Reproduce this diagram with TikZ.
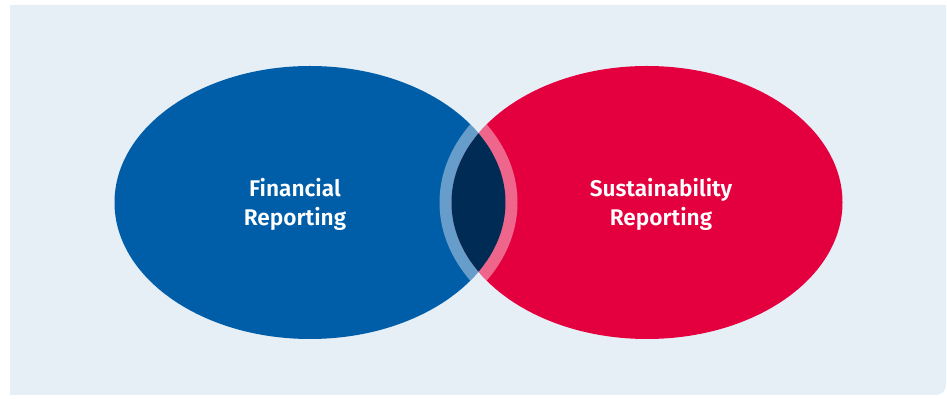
\documentclass[tikz,border=0pt]{standalone}
\usepackage{fontspec}
\setmainfont{Fira Sans}[BoldFont={Fira Sans SemiBold}]
\usetikzlibrary{positioning}
\definecolor{panelbg}{RGB}{230,238,246}
\definecolor{finblue}{RGB}{0,93,168}
\definecolor{susred}{RGB}{228,0,63}
\definecolor{overlapnavy}{RGB}{0,43,85}

\begin{document}
\begin{tikzpicture}[x=0.75pt,y=0.75pt,
    setlabel/.style={text=white,align=center,font=\bfseries\fontsize{17}{21.75}\selectfont},
    rim/.style={white,opacity=0.4,line width=18pt}]
    \useasboundingbox (0,0) rectangle (947,399);
    % panel, only the lower right corner is rounded
    \fill[panelbg] (946,394) -- (946,14) arc[start angle=0,end angle=-90,radius=10]
        -- (10,4) -- (10,394) -- cycle;
    \fill[finblue] (310,196.5) ellipse [x radius=195.5, y radius=136.5];
    \fill[susred] (647,196.5) ellipse [x radius=195.5, y radius=136.5];
    % light rims around the overlap
    \begin{scope}
        \clip (310,196.5) ellipse [x radius=195.5, y radius=136.5];
        \draw[rim] (647,196.5) ellipse [x radius=195.5, y radius=136.5];
    \end{scope}
    \begin{scope}
        \clip (647,196.5) ellipse [x radius=195.5, y radius=136.5];
        \draw[rim] (310,196.5) ellipse [x radius=195.5, y radius=136.5];
    \end{scope}
    \begin{scope}
        \clip (310,196.5) ellipse [x radius=195.5, y radius=136.5];
        \fill[overlapnavy] (647,196.5) ellipse [x radius=195.5, y radius=136.5];
    \end{scope}
    \node[setlabel] (financial) at (295,195) {Financial\\Reporting};
    \node[setlabel] (sustainability) at (661,195) {Sustainability\\Reporting};
\end{tikzpicture}
\end{document}
